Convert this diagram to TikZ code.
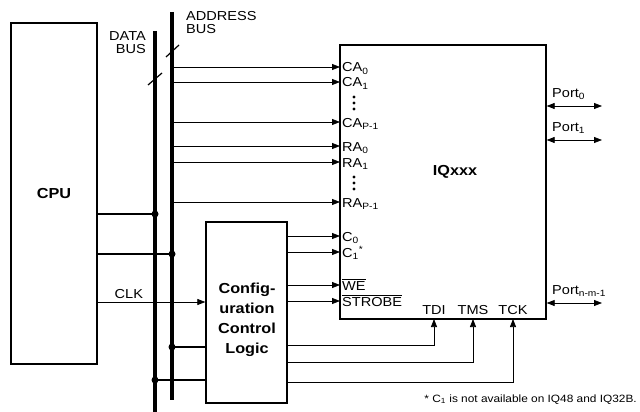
\documentclass[tikz,border=0pt]{standalone}
\usepackage{fontspec}
\setmainfont[FakeStretch=1.12]{Liberation Sans}
\usetikzlibrary{arrows.meta,positioning}

\begin{document}
\begin{tikzpicture}[
  x=1pt, y=-1pt,
  block/.style={rectangle, draw, line width=1.3pt, inner sep=0pt},
  bus/.style={line width=3.8pt},
  tap/.style={line width=2.8pt},
  sig/.style={line width=0.75pt},
  arr/.style={sig, -{Triangle[length=8pt, width=6pt]}},
  dbl/.style={sig, {Triangle[length=8pt, width=6pt]}-{Triangle[length=8pt, width=6pt]}},
  dot/.style={circle, fill, inner sep=0pt, minimum size=7pt},
  pinlbl/.style={anchor=base west, inner sep=0pt, xshift=2pt, yshift=-5pt, font=\fontsize{13}{13}\selectfont},
  lbl/.style={inner sep=0pt, font=\fontsize{13}{13}\selectfont},
  title/.style={font=\bfseries\fontsize{14.5}{20}\selectfont, align=center}
]
  \useasboundingbox (0,0) rectangle (640,412);

  % blocks
  \node[block, title, minimum width=86pt, minimum height=341pt] (cpu) at (54,193.5) {CPU};
  \node[block, minimum width=206pt, minimum height=274pt] (iq) at (443,182) {};
  \node[title] (iqname) at (455,172) {IQxxx};
  \node[block, minimum width=81pt, minimum height=181pt] (ccl) at (246.5,312.5) {};
  \node[title] (cclname) at (247,319.5) {Config-\\uration\\Control\\Logic};

  % buses
  \coordinate (dtop) at (155,31);
  \coordinate (dbot) at (155,412);
  \coordinate (atop) at (172,12);
  \coordinate (abot) at (172,400);
  \draw[bus] (dtop) -- (dbot);
  \draw[bus] (atop) -- (abot);
  \draw[line width=1.2pt] (166,57) -- (179,45);
  \draw[line width=1.2pt] (148,85) -- (162,73);
  \node[lbl, align=right, anchor=east] (dlbl) at (146,42.5) {DATA\\BUS};
  \node[lbl, align=left, anchor=west] (albl) at (186,22.5) {ADDRESS\\BUS};

  % CPU and bus taps
  \coordinate (j1) at (155,214);
  \coordinate (j2) at (172,254);
  \coordinate (j3) at (172,347);
  \coordinate (j4) at (155,380);
  \draw[tap] (cpu.east |- j1) -- (j1);
  \draw[tap] (cpu.east |- j2) -- (j2);
  \draw[tap] (j3) -- (ccl.west |- j3);
  \draw[tap] (j4) -- (ccl.west |- j4);
  \node[dot] (dj1) at (j1) {};
  \node[dot] (dj2) at (j2) {};
  \node[dot] (dj3) at (j3) {};
  \node[dot] (dj4) at (j4) {};
  \draw[arr] (cpu.east |- 0,302) -- node[lbl, above=3pt, pos=0.29] (clk) {CLK} (ccl.west |- 0,302);

  % IQ inputs
  \coordinate (ca0) at (340,67);
  \coordinate (ca1) at (340,82);
  \coordinate (cap) at (340,122);
  \coordinate (ra0) at (340,146);
  \coordinate (ra1) at (340,162);
  \coordinate (rap) at (340,202);
  \coordinate (c0) at (340,236);
  \coordinate (c1) at (340,252);
  \coordinate (we) at (340,285);
  \coordinate (strobe) at (340,301);
  \draw[arr] (ca0 -| atop) -- (ca0);
  \draw[arr] (ca1 -| atop) -- (ca1);
  \draw[arr] (cap -| atop) -- (cap);
  \draw[arr] (ra0 -| atop) -- (ra0);
  \draw[arr] (ra1 -| atop) -- (ra1);
  \draw[arr] (rap -| atop) -- (rap);
  \draw[arr] (c0 -| ccl.east) -- (c0);
  \draw[arr] (c1 -| ccl.east) -- (c1);
  \draw[arr] (we -| ccl.east) -- (we);
  \draw[arr] (strobe -| ccl.east) -- (strobe);
  \node[pinlbl] at (ca0) {CA\textsubscript{0}};
  \node[pinlbl] at (ca1) {CA\textsubscript{1}};
  \node[pinlbl] at (cap) {CA\textsubscript{P-1}};
  \node[pinlbl] at (ra0) {RA\textsubscript{0}};
  \node[pinlbl] at (ra1) {RA\textsubscript{1}};
  \node[pinlbl] at (rap) {RA\textsubscript{P-1}};
  \node[pinlbl] at (c0) {C\textsubscript{0}};
  \node[pinlbl] at (c1) {C\textsubscript{1}\textsuperscript{*}};
  \node[pinlbl] at (we) {$\overline{\mbox{WE}}$};
  \node[pinlbl] at (strobe) {$\overline{\mbox{STROBE}}$};
  \foreach \y in {97,103,109,177,183,189}
    \fill (354,\y) circle (1.7pt);

  % test port
  \coordinate (tdi) at (434,319);
  \coordinate (tms) at (473,319);
  \coordinate (tck) at (513,319);
  \node[lbl, anchor=base, yshift=5pt] at (tdi) {TDI};
  \node[lbl, anchor=base, yshift=5pt] at (tms) {TMS};
  \node[lbl, anchor=base, yshift=5pt] at (tck) {TCK};
  \draw[arr] (ccl.east |- 0,345) -| (tdi);
  \draw[arr] (ccl.east |- 0,362) -| (tms);
  \draw[arr] (ccl.east |- 0,382) -| (tck);

  % ports
  \coordinate (p0) at (602,106);
  \coordinate (p1) at (602,140);
  \coordinate (pn) at (602,303);
  \draw[dbl] (iq.east |- p0) -- (p0);
  \draw[dbl] (iq.east |- p1) -- (p1);
  \draw[dbl] (iq.east |- pn) -- (pn);
  \node[lbl, anchor=base west] at (552,97) {Port\textsubscript{0}};
  \node[lbl, anchor=base west] at (552,131) {Port\textsubscript{1}};
  \node[lbl, anchor=base west] at (552,294) {Port\textsubscript{n-m-1}};

  \node[lbl, anchor=base east, font=\fontsize{10.6}{12}\selectfont] (note) at (637,402) {* C\textsubscript{1} is not available on IQ48 and IQ32B.};
\end{tikzpicture}
\end{document}
